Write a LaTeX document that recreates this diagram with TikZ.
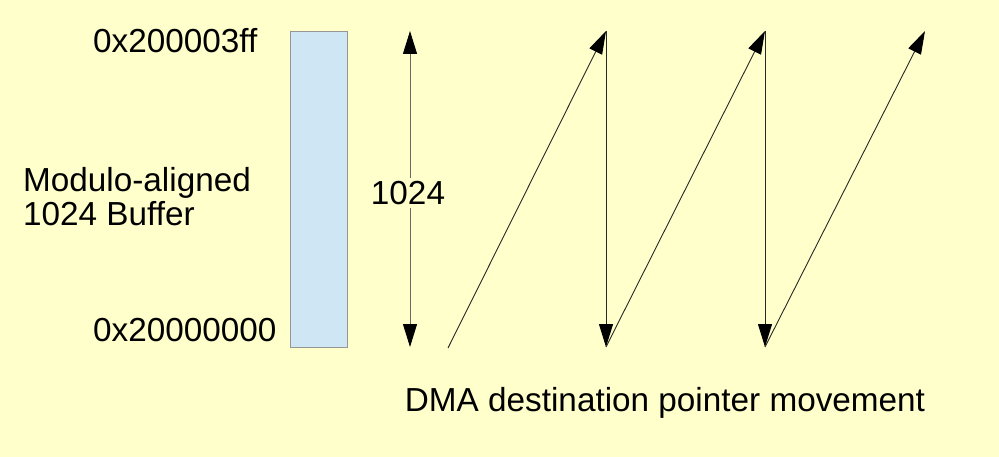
\documentclass[tikz,border=0pt]{standalone}
\usepackage{fontspec}
\setmainfont{Liberation Sans}
\usetikzlibrary{arrows.meta}
\definecolor{bg}{RGB}{255,255,204}
\definecolor{buf}{RGB}{207,231,245}
\definecolor{bufedge}{RGB}{150,150,150}
\definecolor{ln}{RGB}{40,40,40}
\begin{document}
\begin{tikzpicture}[x=1pt,y=-1pt,
  lbl/.style={font=\fontsize{33.3}{34}\selectfont, inner sep=0pt},
  tipped/.style={draw=ln, line width=1pt, -{Triangle[length=23pt,width=14pt,fill=black,color=black]}}]
\fill[bg] (0,0) rectangle (999,457);
\useasboundingbox (0,0) rectangle (999,457);
% buffer
\node[draw=bufedge, fill=buf, line width=1pt, minimum width=57pt, minimum height=316pt, inner sep=0pt, anchor=north west] (buffer) at (290,31) {};
\node[lbl, anchor=west] (top) at (93,41) {0x200003ff};
\node[lbl, anchor=west] (bot) at (93,330) {0x20000000};
\node[lbl, anchor=west, align=left] (name) at (23,197) {Modulo-aligned\\1024 Buffer};
% size arrow
\coordinate (sT) at (410,31);
\coordinate (sB) at (410,347);
\node[lbl, fill=bg, inner sep=3pt] (size) at (408,193) {1024};
\draw[tipped, draw=ln!70] (sT |- size.north) -- (sT);
\draw[tipped, draw=ln!70] (sB |- size.south) -- (sB);
% zigzag
\coordinate (p0) at (448,348);
\coordinate (p1) at (606,31);
\coordinate (p2) at (606,347);
\coordinate (p3) at (765,31);
\coordinate (p4) at (765,347);
\coordinate (p5) at (925,31);
\draw[tipped, line width=0.9pt] (p0) -- (p1);
\draw[tipped] (p1) -- (p2);
\draw[tipped, line width=0.9pt] (p2) -- (p3);
\draw[tipped] (p3) -- (p4);
\draw[tipped, line width=0.9pt] (p4) -- (p5);
\node[lbl] (cap) at (665,403) {DMA destination pointer movement};
\end{tikzpicture}
\end{document}
